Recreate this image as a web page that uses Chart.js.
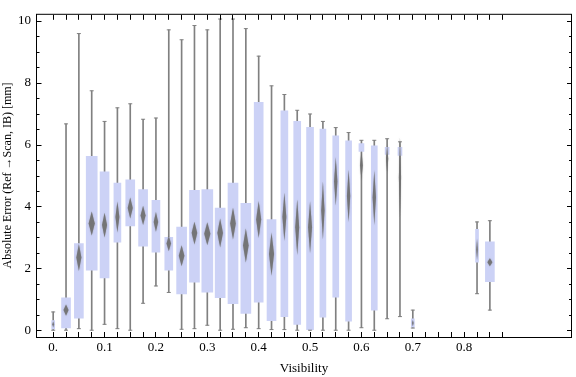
<!DOCTYPE html>
<html>
<head>
<meta charset="utf-8">
<script src="https://cdn.jsdelivr.net/npm/chart.js@4/dist/chart.umd.min.js"></script>
<style>
  body { margin: 0; background: #fff; }
</style>
</head>
<body>
<canvas id="chart" width="576" height="377"></canvas>
<script>
// bin positions (visibility) and box-whisker statistics
var visibility = [0, 0.025, 0.05, 0.075, 0.1, 0.125, 0.15, 0.175, 0.2, 0.225, 0.25, 0.275,
    0.3, 0.325, 0.35, 0.375, 0.4, 0.425, 0.45, 0.475, 0.5, 0.525, 0.55, 0.575,
    0.6, 0.625, 0.65, 0.675, 0.7, 0.725, 0.75, 0.775, 0.8, 0.825, 0.85, 0.875];

var whiskerLow = [0, 0, 0.05, 0, 0.19, 0.05, 0, 0.87, 1.43, 1.22, 0.03, 0.05,
    0.16, 0, 0.03, 0.08, 0.05, 0.02, 0.02, 0, 0, 0, 0, 0,
    0.08, 0, 0.37, 0.44, 0.07, null, null, null, null, 1.18, 0.65, null];
var boxLow = [0.04, 0.07, 0.39, 1.94, 1.69, 2.85, 3.37, 2.72, 2.52, 1.94, 1.17, 1.55,
    1.23, 1.05, 0.86, 0.54, 0.91, 0.31, 0.44, 0.19, 0.02, 0.42, 1.07, 0.29,
    5.78, 0.65, 5.68, 5.65, 0.10, null, null, null, null, 2.20, 1.57, null];
var boxHigh = [0.31, 1.05, 2.80, 5.62, 5.12, 4.76, 4.86, 4.55, 4.20, 3.00, 3.33, 4.52,
    4.55, 3.95, 4.76, 4.10, 7.37, 3.58, 7.09, 6.75, 6.56, 6.50, 6.28, 6.12,
    6.03, 5.96, 5.91, 5.91, 0.37, null, null, null, null, 3.26, 2.86, null];
var whiskerHigh = [0.59, 6.67, 9.59, 7.74, 6.75, 7.19, 7.32, 6.82, 6.86, 9.71, 9.39, 9.85,
    9.71, 10.06, 10.06, 9.75, 8.86, 7.90, 7.62, 7.11, 6.99, 6.75, 6.55, 6.39,
    6.14, 6.14, 6.19, 6.09, 0.65, null, null, null, null, 3.50, 3.54, null];
var diamondMid = [0.19, 0.65, 2.35, 3.45, 3.40, 3.66, 3.95, 3.71, 3.50, 2.80, 2.41, 3.14,
    3.12, 3.14, 3.45, 2.74, 3.58, 2.46, 3.66, 3.33, 3.33, 3.87, 4.81, 4.34,
    5.33, 4.29, 5.54, 4.94, 0.23, null, null, null, null, 2.61, 2.20, null];
var diamondHalf = [0.10, 0.18, 0.44, 0.39, 0.40, 0.50, 0.34, 0.31, 0.32, 0.25, 0.34, 0.37,
    0.37, 0.47, 0.52, 0.55, 0.60, 0.70, 0.78, 0.90, 0.84, 0.94, 0.78, 0.84,
    0.47, 0.89, 0.45, 1.30, 0.10, null, null, null, null, 0.34, 0.13, null];

var yTicks = [0, 2, 4, 6, 8, 10];

// box widths in pixels (style only)
var boxWidths = [3, 9, 9, 11, 9, 7, 9, 9, 8, 8, 10, 10,
    11, 10, 10, 10, 9, 9, 7, 7, 7, 6, 6, 6,
    5, 6, 4, 4, 3, 0, 0, 0, 0, 3, 9, 0];

var boxColor = 'rgb(204,210,246)';
var whiskerColor = 'rgb(128,128,128)';

Chart.defaults.font.family = "'Liberation Serif', 'Times New Roman', serif";
Chart.defaults.font.size = 13;
Chart.defaults.color = '#000';

// one bar dataset per box width
var widthGroups = {};
visibility.forEach(function (v, i) {
    if (boxLow[i] === null) return;
    var w = boxWidths[i];
    if (!widthGroups[w]) widthGroups[w] = [];
    widthGroups[w].push({ x: v, y: [boxLow[i], boxHigh[i]] });
});

var datasets = [];
Object.keys(widthGroups).forEach(function (w) {
    datasets.push({
        type: 'bar',
        data: widthGroups[w],
        barThickness: Number(w),
        backgroundColor: boxColor,
        borderWidth: 0,
        grouped: false,
        order: 1
    });
});

var whiskers = [];
var caps = [];
visibility.forEach(function (v, i) {
    if (whiskerLow[i] === null) return;
    whiskers.push({ x: v, y: [whiskerLow[i], whiskerHigh[i]] });
    caps.push({ x: v, y: whiskerLow[i] });
    caps.push({ x: v, y: whiskerHigh[i] });
});

datasets.push({
    type: 'bar',
    data: whiskers,
    barThickness: 1,
    backgroundColor: whiskerColor,
    borderWidth: 0,
    grouped: false,
    order: 2
});
datasets.push({
    type: 'scatter',
    data: caps,
    pointStyle: 'line',
    radius: 2,
    borderColor: whiskerColor,
    borderWidth: 1,
    order: 0
});

var diamondPlugin = {
    id: 'diamonds',
    afterDatasetsDraw: function (chart) {
        var ctx = chart.ctx;
        var xs = chart.scales.x, ys = chart.scales.y;
        var a = chart.chartArea;
        ctx.save();
        ctx.beginPath();
        ctx.rect(a.left, a.top, a.right - a.left, a.bottom - a.top);
        ctx.clip();
        ctx.fillStyle = 'rgba(112,112,112,0.9)';
        ctx.shadowColor = 'rgba(112,112,112,0.6)';
        ctx.shadowBlur = 1.5;
        for (var i = 0; i < visibility.length; i++) {
            if (diamondMid[i] === null) continue;
            var cx = xs.getPixelForValue(visibility[i]);
            var cy = ys.getPixelForValue(diamondMid[i]);
            var top = ys.getPixelForValue(diamondMid[i] + diamondHalf[i]);
            var bot = ys.getPixelForValue(diamondMid[i] - diamondHalf[i]);
            var hw = Math.max(boxWidths[i] * 0.28, 0.8);
            ctx.beginPath();
            ctx.moveTo(cx, top);
            ctx.lineTo(cx + hw, cy);
            ctx.lineTo(cx, bot);
            ctx.lineTo(cx - hw, cy);
            ctx.closePath();
            ctx.fill();
        }
        ctx.restore();
    }
};

var framePlugin = {
    id: 'frame',
    afterDraw: function (chart) {
        var ctx = chart.ctx;
        var xs = chart.scales.x, ys = chart.scales.y;
        var a = chart.chartArea;
        ctx.save();
        ctx.strokeStyle = '#000';
        ctx.lineWidth = 1;
        ctx.strokeRect(a.left - 0.5, a.top + 0.5, a.right - a.left + 1, a.bottom - a.top);
        ctx.beginPath();
        visibility.forEach(function (v) {
            var px = Math.floor(xs.getPixelForValue(v)) + 0.5;
            ctx.moveTo(px, a.bottom);
            ctx.lineTo(px, a.bottom - 5);
            ctx.moveTo(px, a.top + 1);
            ctx.lineTo(px, a.top + 6);
        });
        for (var k = 0; k <= 20; k++) {
            var val = k / 2;
            var py = Math.round(ys.getPixelForValue(val)) + 0.5;
            var len = (k % 4 === 0) ? 4.5 : 2.5;
            ctx.moveTo(a.left, py);
            ctx.lineTo(a.left + len, py);
            ctx.moveTo(a.right + 0.5, py);
            ctx.lineTo(a.right + 0.5 - len, py);
        }
        ctx.stroke();
        ctx.restore();
    }
};

new Chart(document.getElementById('chart'), {
    type: 'bar',
    data: { datasets: datasets },
    options: {
        responsive: false,
        animation: false,
        devicePixelRatio: 1,
        layout: { padding: { top: 4, right: 1, left: 0, bottom: 0 } },
        plugins: { legend: { display: false }, tooltip: { enabled: false } },
        scales: {
            x: {
                type: 'linear',
                offset: false,
                min: -0.0315,
                max: 1.0079,
                grid: { display: false, drawTicks: false, offset: false },
                border: { display: false },
                afterBuildTicks: function (scale) {
                    scale.ticks = visibility.map(function (v) { return { value: v }; });
                },
                afterFit: function (scale) { scale.height = 40; },
                ticks: {
                    autoSkip: false,
                    maxRotation: 0,
                    padding: 3,
                    callback: function (value) {
                        var k = Math.round(value * 40);
                        if (k % 4 !== 0) return '';
                        if (k === 0) return '0.';
                        return value.toFixed(1);
                    }
                },
                title: {
                    display: true,
                    text: 'Visibility',
                    padding: { top: 0, bottom: 1 }
                }
            },
            y: {
                min: -0.2197,
                max: 10.229,
                grid: { display: false, drawTicks: false },
                border: { display: false },
                afterBuildTicks: function (scale) {
                    scale.ticks = yTicks.map(function (v) { return { value: v }; });
                },
                afterFit: function (scale) { scale.width = 37; },
                ticks: { padding: 6 },
                title: {
                    display: true,
                    text: 'Absolute Error (Ref \u2192Scan, IB) [mm]',
                    font: { size: 12 },
                    padding: { top: 1, bottom: 0 }
                }
            }
        }
    },
    plugins: [diamondPlugin, framePlugin]
});
</script>
</body>
</html>
